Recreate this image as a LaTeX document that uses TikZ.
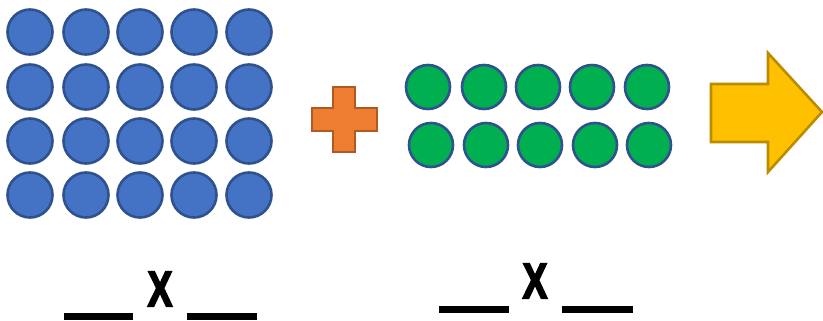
\documentclass[tikz,border=0pt]{standalone}
\usepackage{fontspec}
\setmainfont{Liberation Sans}
\newfontfamily\heavyx[FakeBold=4]{Liberation Sans Bold}
\definecolor{bluefill}{HTML}{4472C4}
\definecolor{blueline}{HTML}{2F528F}
\definecolor{greenfill}{HTML}{00B050}
\definecolor{orangefill}{HTML}{ED7D31}
\definecolor{orangeline}{HTML}{AE5A21}
\definecolor{yellowfill}{HTML}{FFC000}
\definecolor{yellowline}{HTML}{BC8C00}
\begin{document}
\begin{tikzpicture}[x=1pt,y=-1pt,
  bluedot/.style={circle,minimum size=45pt,inner sep=0pt,fill=bluefill,draw=blueline,line width=2.6pt},
  greendot/.style={circle,minimum size=44pt,inner sep=0pt,fill=greenfill,draw=blueline,line width=2.6pt},
  blank/.style={line width=7pt},
  times/.style={inner sep=0pt,font=\fontsize{50}{50}\heavyx,xscale=0.74}]
\useasboundingbox (0,0) rectangle (823,321);
% blue 5x4 array
\foreach \r/\y in {1/32,2/87,3/141,4/195}{
  \foreach \c/\x in {1/30,2/86,3/140,4/194,5/249}{
    \node[bluedot] (b\r\c) at (\x,\y) {};
  }
}
% plus sign
\draw[fill=orangefill,draw=orangeline,line width=2.6pt]
  (333,87) -- (355,87) -- (355,108) -- (377,108) -- (377,131) -- (355,131)
  -- (355,152) -- (333,152) -- (333,131) -- (312,131) -- (312,108) -- (333,108) -- cycle;
% green 5x2 array
\foreach \c/\x in {1/428,2/484,3/538,4/592,5/647}{
  \node[greendot] (ga\c) at (\x,87) {};
}
\foreach \c/\x in {1/431,2/486,3/540,4/595,5/649}{
  \node[greendot] (gb\c) at (\x,145) {};
}
% arrow
\draw[fill=yellowfill,draw=yellowline,line width=2.6pt]
  (711,84) -- (768,84) -- (768,53) -- (822,112) -- (768,172) -- (768,142) -- (711,142) -- cycle;
% blanks and times signs
\draw[blank] (64,316) -- (133,316);
\draw[blank] (187,316) -- (257,316);
\node[times] (x1) at (160,289) {X};
\draw[blank] (439,309.5) -- (509,309.5);
\draw[blank] (562,309.5) -- (633,309.5);
\node[times] (x2) at (535,281) {X};
\end{tikzpicture}
\end{document}
